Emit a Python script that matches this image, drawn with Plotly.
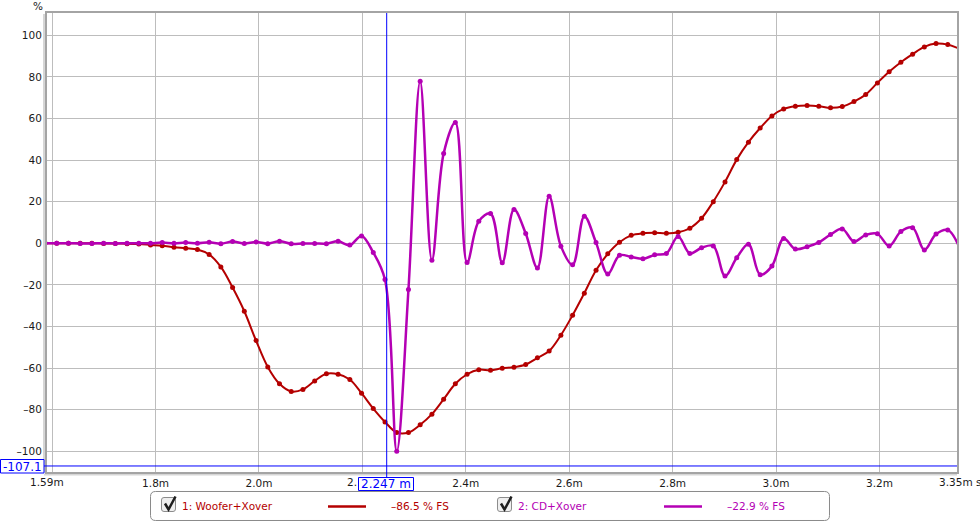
import plotly.graph_objects as go

# ---------------- data ----------------
# sample times in ms (44.1 kHz sample spacing)
time_ms = [1.58612, 1.60880, 1.63148, 1.65415, 1.67683, 1.69950, 1.72218, 1.74485,
           1.76753, 1.79021, 1.81288, 1.83556, 1.85823, 1.88091, 1.90358, 1.92626,
           1.94894, 1.97161, 1.99429, 2.01696, 2.03964, 2.06231, 2.08499, 2.10767,
           2.13034, 2.15302, 2.17569, 2.19837, 2.22104, 2.24372, 2.26640, 2.28907,
           2.31175, 2.33442, 2.35710, 2.37977, 2.40245, 2.42513, 2.44780, 2.47048,
           2.49315, 2.51583, 2.53850, 2.56118, 2.58386, 2.60653, 2.62921, 2.65188,
           2.67456, 2.69723, 2.71991, 2.74259, 2.76526, 2.78794, 2.81061, 2.83329,
           2.85596, 2.87864, 2.90132, 2.92399, 2.94667, 2.96934, 2.99202, 3.01469,
           3.03737, 3.06005, 3.08272, 3.10540, 3.12807, 3.15075, 3.17342, 3.19610,
           3.21878, 3.24145, 3.26413, 3.28680, 3.30948, 3.33215, 3.35483]

woofer_xover = [0, 0, 0, 0, 0, -0.1, -0.1, -0.2,
                -0.4, -0.8, -1.2, -1.9, -2.4, -3.0, -5.4, -11.4,
                -21.3, -32.7, -46.8, -59.5, -67.6, -71.3, -70.3, -66.2,
                -62.8, -63.0, -65.5, -72.1, -79.5, -85.9, -91.0, -91.0,
                -87.3, -82.2, -75.0, -67.6, -63.0, -60.8, -61.1, -60.1,
                -59.6, -58.3, -55.1, -51.8, -44.2, -34.6, -24.0, -13.0,
                -5.1, 0.5, 3.8, 4.8, 5.0, 4.8, 5.3, 7.2,
                12.0, 20.0, 29.5, 40.2, 48.6, 55.4, 61.2, 64.6,
                65.9, 66.2, 65.9, 65.1, 65.7, 68.1, 71.5, 77.1,
                82.4, 87.0, 90.9, 94.4, 96.0, 95.5, 93.5]

cd_xover = [0, 0, 0, -0.1, -0.1, 0, -0.1, 0,
            0, 0, 0.3, 0, 0.3, 0, 0.5, -0.2,
            0.8, -0.1, 0.6, -0.2, 1.0, -0.3, -0.1, -0.1,
            -0.2, 0.9, -0.9, 3.5, -4.5, -17.5, -100.0, -22.3,
            77.9, -8.2, 43.1, 58.0, -9.3, 10.6, 14.3, -9.4,
            16.2, 4.7, -11.9, 22.6, -1.4, -10.4, 13.0, 0.3,
            -14.8, -5.8, -6.6, -7.5, -5.6, -4.9, 3.2, -4.9,
            -2.2, -1.3, -15.7, -7.0, -0.5, -15.1, -11.0, 2.3,
            -2.8, -1.7, 0.4, 4.2, 6.9, 0.8, 4.0, 4.5,
            -1.3, 5.6, 7.5, -3.2, 4.4, 6.4, -2.0]

series_names = ["1: Woofer+Xover", "2: CD+Xover"]
cursor_values = ["\u201386.5 % FS", "\u201322.9 % FS"]
cursor_time = 2.247
cursor_level = -107.1

x_grid = [1.6, 1.8, 2.0, 2.2, 2.4, 2.6, 2.8, 3.0, 3.2]
# the 2.2m label is mostly hidden under the cursor readout; only "2." shows
x_grid_text = ["", "1.8m", "2.0m", "", "2.4m", "2.6m", "2.8m", "3.0m", "3.2m"]
y_ticks = [-100, -80, -60, -40, -20, 0, 20, 40, 60, 80, 100]
y_tick_text = ["\u2013100", "\u201380", "\u201360", "\u201340", "\u201320", "0",
               "20", "40", "60", "80", "100"]

# ---------------- layout helpers ----------------
W, H = 980, 522
L, R, T, B = 47, 957, 13, 472
RED = "#B40000"
MAG = "#B400B4"
BLUE = "#0000FF"
FONT = "DejaVu Sans"


def px(x):
    return (x - L) / (R - L)


def py(y):
    return (B - y) / (B - T)


def rrect(x0, y0, x1, y1, r):
    pts = [
        ("M", [(x0 + r, y0)]),
        ("L", [(x1 - r, y0)]),
        ("Q", [(x1, y0), (x1, y0 + r)]),
        ("L", [(x1, y1 - r)]),
        ("Q", [(x1, y1), (x1 - r, y1)]),
        ("L", [(x0 + r, y1)]),
        ("Q", [(x0, y1), (x0, y1 - r)]),
        ("L", [(x0, y0 + r)]),
        ("Q", [(x0, y0), (x0 + r, y0)]),
    ]
    s = ""
    for cmd, ps in pts:
        s += cmd + " " + " ".join(f"{px(a):.5f},{py(b):.5f}" for a, b in ps) + " "
    return s + "Z"


def poly(points):
    return "M " + " L ".join(f"{px(a):.5f},{py(b):.5f}" for a, b in points)


fig = go.Figure()

fig.add_trace(go.Scatter(
    x=time_ms, y=woofer_xover, mode="lines+markers", name=series_names[0],
    line=dict(color=RED, width=2, shape="spline", smoothing=1.0),
    marker=dict(color=RED, size=5), showlegend=False, hoverinfo="skip"))
fig.add_trace(go.Scatter(
    x=time_ms, y=cd_xover, mode="lines+markers", name=series_names[1],
    line=dict(color=MAG, width=2.5, shape="spline", smoothing=1.0),
    marker=dict(color=MAG, size=5), showlegend=False, hoverinfo="skip"))

shapes = []
# frame shadow
shapes.append(dict(type="line", xref="paper", yref="paper", x0=px(44), x1=px(44),
                   y0=py(472), y1=py(14), line=dict(color="#D6D6D6", width=2), layer="below"))
shapes.append(dict(type="line", xref="paper", yref="paper", x0=px(44), x1=px(957),
                   y0=py(474.5), y1=py(474.5), line=dict(color="#D6D6D6", width=2), layer="below"))
# cursor lines
shapes.append(dict(type="line", xref="x", yref="paper", x0=cursor_time, x1=cursor_time,
                   y0=py(478), y1=1, line=dict(color=BLUE, width=1), layer="above"))
shapes.append(dict(type="line", xref="paper", yref="y", x0=px(44), x1=1,
                   y0=cursor_level, y1=cursor_level, line=dict(color=BLUE, width=1), layer="above"))
# cursor label boxes
shapes.append(dict(type="rect", xref="paper", yref="paper", x0=px(358.5), x1=px(413.5),
                   y0=py(490.5), y1=py(477.5), line=dict(color=BLUE, width=1),
                   fillcolor="white", layer="above"))
shapes.append(dict(type="rect", xref="paper", yref="paper", x0=px(0.5), x1=px(44),
                   y0=py(473), y1=py(459.5), line=dict(color=BLUE, width=1),
                   fillcolor="white", layer="above"))
# legend box
shapes.append(dict(type="path", xref="paper", yref="paper",
                   path=rrect(150.5, 491.5, 829.5, 520.5, 5),
                   line=dict(color="#8A8A8A", width=1), fillcolor="white", layer="above"))
# checkboxes
for cx in (161.5, 497.5):
    shapes.append(dict(type="path", xref="paper", yref="paper",
                       path=rrect(cx, 497.5, cx + 14, 511.5, 2.5),
                       line=dict(color="#8C8C8C", width=1), fillcolor="#EFEFEF", layer="above"))
    shapes.append(dict(type="path", xref="paper", yref="paper",
                       path=poly([(cx + 3.5, 503.5), (cx + 7, 509.5), (cx + 14, 496.5)]),
                       line=dict(color="#1E1E1E", width=2.5), layer="above"))
# legend line samples
shapes.append(dict(type="line", xref="paper", yref="paper", x0=px(328), x1=px(366),
                   y0=py(506.5), y1=py(506.5), line=dict(color=RED, width=2.5), layer="above"))
shapes.append(dict(type="line", xref="paper", yref="paper", x0=px(664), x1=px(702),
                   y0=py(506.5), y1=py(506.5), line=dict(color=MAG, width=2.5), layer="above"))

annotations = []


def ann(text, x, y, color="#1A1A1A", size=10.5, xanchor="left"):
    annotations.append(dict(text=text, xref="paper", yref="paper", x=px(x), y=py(y),
                            xanchor=xanchor, yanchor="middle", showarrow=False,
                            font=dict(family=FONT, size=size, color=color), borderpad=0))


ann("%", 37.5, 5.5, xanchor="center")
ann("1.59m", 47, 482, xanchor="center")
ann("2.", 357.5, 482, xanchor="right")
ann("3.35m s", 938, 482)
ann(f"{cursor_time:.3f} m", 386, 484, color=BLUE, size=12, xanchor="center")
ann(f"{cursor_level:.1f}", 22.5, 466.5, color=BLUE, size=12, xanchor="center")
ann(series_names[0], 181, 506, color=RED)
ann(cursor_values[0], 390, 506, color=RED)
ann(series_names[1], 517, 506, color=MAG)
ann(cursor_values[1], 726, 506, color=MAG)

fig.update_layout(
    width=W, height=H,
    margin=dict(l=L, r=W - R, t=T, b=H - B, pad=0),
    paper_bgcolor="white", plot_bgcolor="white",
    font=dict(family=FONT, size=10.5, color="#1A1A1A"),
    shapes=shapes, annotations=annotations,
    xaxis=dict(range=[1.59, 3.35], tickvals=x_grid, ticktext=x_grid_text,
               showgrid=True, gridcolor="#BDBDBD", gridwidth=1, zeroline=False,
               showline=True, mirror=True, linecolor="#A4A4A4", linewidth=2,
               ticks="", ticklabelstandoff=0, tickfont=dict(family=FONT, size=10.5, color="#1A1A1A")),
    yaxis=dict(range=[-110, 110.7], tickvals=y_ticks, ticktext=y_tick_text,
               showgrid=True, gridcolor="#BDBDBD", gridwidth=1, zeroline=False,
               showline=True, mirror=True, linecolor="#A4A4A4", linewidth=2,
               ticks="", ticklabelstandoff=1, tickfont=dict(family=FONT, size=10.5, color="#1A1A1A")),
)

fig.write_html(
    "out.html",
    config={"displayModeBar": False},
    post_script="document.body.style.margin='0';document.body.style.overflow='hidden';",
)
